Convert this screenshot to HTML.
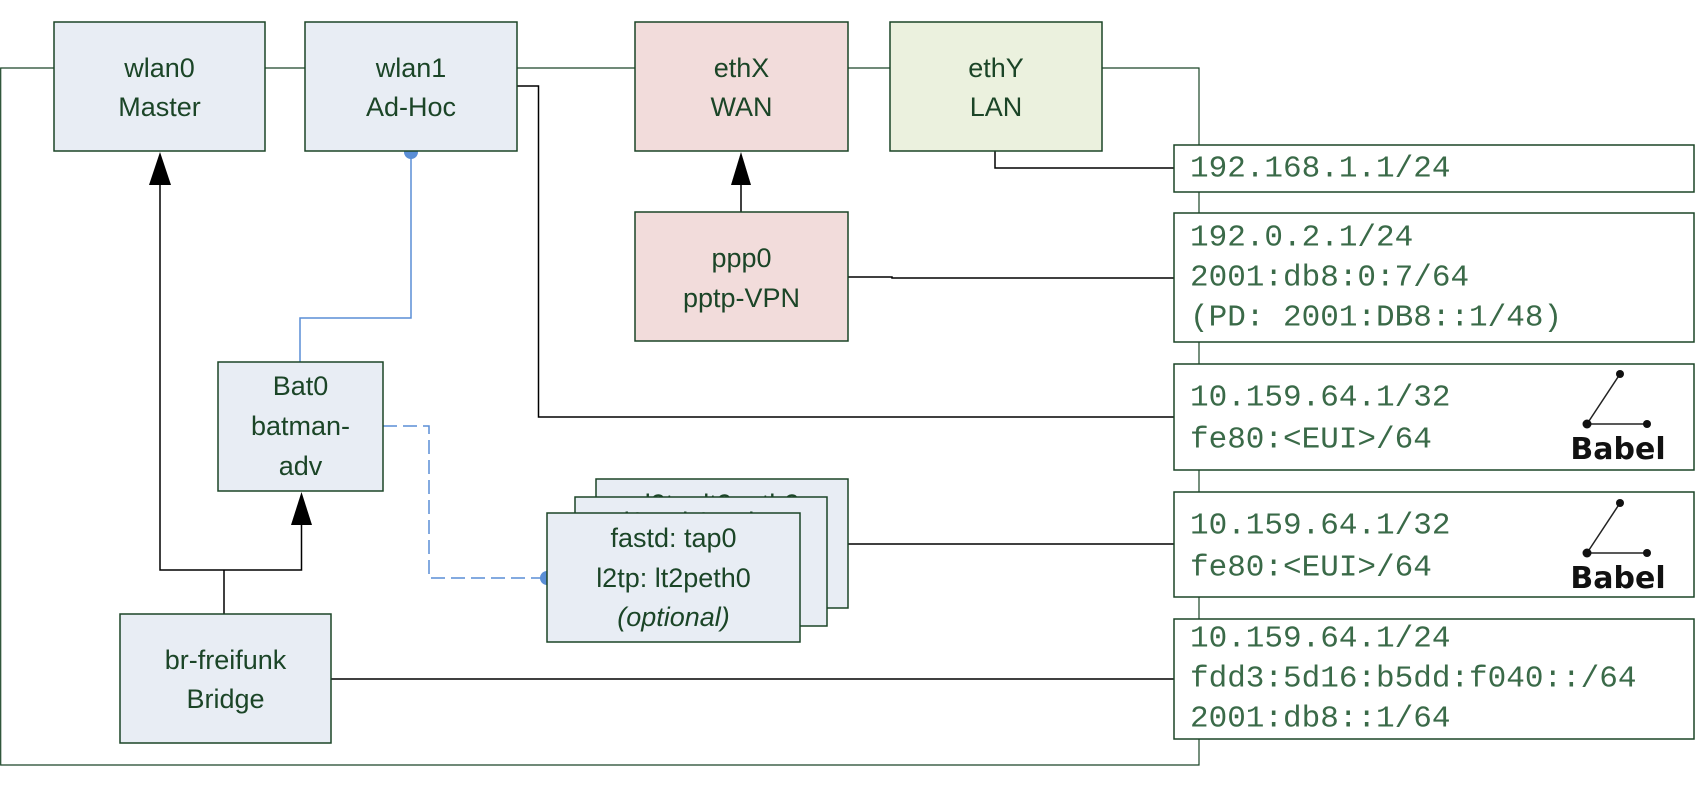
<!DOCTYPE html>
<html><head><meta charset="utf-8"><style>
html,body{margin:0;padding:0;background:#fff;}
svg{display:block}
.lbl{font-family:"Liberation Sans",sans-serif;font-size:27px;fill:#1b4527;text-anchor:middle;dominant-baseline:central}
.ip{font-family:"Liberation Mono",monospace;font-size:31px;fill:#3a6a48;dominant-baseline:central}
.box{fill:#e8edf4;stroke:#1b4527;stroke-width:1.5}
.ipb{fill:#fff;stroke:#1b4527;stroke-width:1.5}
.ln{stroke:#000;stroke-width:1.5;fill:none}
.gl{stroke:#1b4527;stroke-width:1.2;fill:none}
</style></head><body>
<svg width="1696" height="787" viewBox="0 0 1696 787" xmlns="http://www.w3.org/2000/svg">
<polyline class="gl" points="54,68 0.7,68 0.7,765 1199,765 1199,68 1102,68"/>
<line class="gl" x1="265" y1="68" x2="305" y2="68"/>
<line class="gl" x1="517" y1="68" x2="635" y2="68"/>
<line class="gl" x1="848" y1="68" x2="890" y2="68"/>
<polyline class="ln" points="517,86 538.5,86 538.5,417 1174,417"/>
<polyline class="ln" points="995,151 995,168 1174,168"/>
<polyline class="ln" points="848,277 892,277 892,278 1174,278"/>
<line class="ln" x1="848" y1="544" x2="1174" y2="544"/>
<line class="ln" x1="331" y1="679" x2="1174" y2="679"/>
<polyline class="ln" points="224,614 224,570"/>
<polyline class="ln" points="160,185 160,570 301.5,570 301.5,525"/>
<polygon points="160,152 149,185 171,185" fill="#000"/>
<polygon points="301.5,492 291,525 312,525" fill="#000"/>
<line class="ln" x1="741" y1="185" x2="741" y2="212"/>
<polygon points="741,152 731,185 751,185" fill="#000"/>
<polyline points="411,151 411,318 300,318 300,362" stroke="#5a8ed6" stroke-width="1.5" fill="none"/>
<circle cx="411" cy="152" r="7" fill="#5a8ed6"/>
<polyline points="383,426 429,426 429,578 545,578" stroke="#5a8ed6" stroke-width="1.5" fill="none" stroke-dasharray="14,6"/>
<circle cx="547" cy="578" r="7" fill="#5a8ed6"/>

<rect class="box" x="54" y="22" width="211" height="129"/>
<text class="lbl" x="159.5" y="68">wlan0</text><text class="lbl" x="159.5" y="107">Master</text>
<rect class="box" x="305" y="22" width="212" height="129"/>
<text class="lbl" x="411" y="68">wlan1</text><text class="lbl" x="411" y="107">Ad-Hoc</text>
<rect class="box" x="635" y="22" width="213" height="129" style="fill:#f2dcdb"/>
<text class="lbl" x="741.5" y="68">ethX</text><text class="lbl" x="741.5" y="107">WAN</text>
<rect class="box" x="890" y="22" width="212" height="129" style="fill:#ebf1de"/>
<text class="lbl" x="996" y="68">ethY</text><text class="lbl" x="996" y="107">LAN</text>
<rect class="box" x="635" y="212" width="213" height="129" style="fill:#f2dcdb"/>
<text class="lbl" x="741.5" y="258">ppp0</text><text class="lbl" x="741.5" y="298">pptp-VPN</text>
<rect class="box" x="218" y="362" width="165" height="129"/>
<text class="lbl" x="300.5" y="386">Bat0</text><text class="lbl" x="300.5" y="426">batman-</text><text class="lbl" x="300.5" y="466">adv</text>
<rect class="box" x="120" y="614" width="211" height="129"/>
<text class="lbl" x="225.5" y="660">br-freifunk</text><text class="lbl" x="225.5" y="699">Bridge</text>

<rect class="box" x="596" y="479" width="252" height="129"/>
<text class="lbl" x="722" y="504">l2tp: lt2peth2</text>
<rect class="box" x="575" y="497" width="252" height="129"/>
<text class="lbl" x="701" y="522">l2tp: lt2peth1</text>
<rect class="box" x="547" y="513" width="253" height="129"/>
<text class="lbl" x="673.5" y="538">fastd: tap0</text>
<text class="lbl" x="673.5" y="578">l2tp: lt2peth0</text>
<text class="lbl" x="673.5" y="617" font-style="italic">(optional)</text>

<rect class="ipb" x="1174" y="145" width="520" height="47"/>
<text class="ip" x="1190" y="169">192.168.1.1/24</text>
<rect class="ipb" x="1174" y="213" width="520" height="129"/>
<text class="ip" x="1190" y="238">192.0.2.1/24</text>
<text class="ip" x="1190" y="278">2001:db8:0:7/64</text>
<text class="ip" x="1190" y="318">(PD: 2001:DB8::1/48)</text>
<rect class="ipb" x="1174" y="364" width="520" height="106"/>
<text class="ip" x="1190" y="398">10.159.64.1/32</text>
<text class="ip" x="1190" y="440">fe80:&lt;EUI&gt;/64</text>
<rect class="ipb" x="1174" y="492" width="520" height="105"/>
<text class="ip" x="1190" y="526">10.159.64.1/32</text>
<text class="ip" x="1190" y="568">fe80:&lt;EUI&gt;/64</text>
<rect class="ipb" x="1174" y="619" width="520" height="120"/>
<text class="ip" x="1190" y="639">10.159.64.1/24</text>
<text class="ip" x="1190" y="679">fdd3:5d16:b5dd:f040::/64</text>
<text class="ip" x="1190" y="719">2001:db8::1/64</text>

<g>
<line x1="1620" y1="374" x2="1587" y2="424" stroke="#222" stroke-width="1.5"/>
<line x1="1587" y1="424" x2="1647" y2="424" stroke="#222" stroke-width="1.5"/>
<circle cx="1620" cy="374" r="4" fill="#111"/><circle cx="1587" cy="424" r="4.5" fill="#111"/><circle cx="1647" cy="424" r="4" fill="#111"/>
<text x="1618" y="459" font-family="'DejaVu Sans','Liberation Sans',sans-serif" font-size="30" font-weight="bold" fill="#111" text-anchor="middle">Babel</text>
</g>
<g transform="translate(0,129)">
<line x1="1620" y1="374" x2="1587" y2="424" stroke="#222" stroke-width="1.5"/>
<line x1="1587" y1="424" x2="1647" y2="424" stroke="#222" stroke-width="1.5"/>
<circle cx="1620" cy="374" r="4" fill="#111"/><circle cx="1587" cy="424" r="4.5" fill="#111"/><circle cx="1647" cy="424" r="4" fill="#111"/>
<text x="1618" y="459" font-family="'DejaVu Sans','Liberation Sans',sans-serif" font-size="30" font-weight="bold" fill="#111" text-anchor="middle">Babel</text>
</g>
</svg>
</body></html>
